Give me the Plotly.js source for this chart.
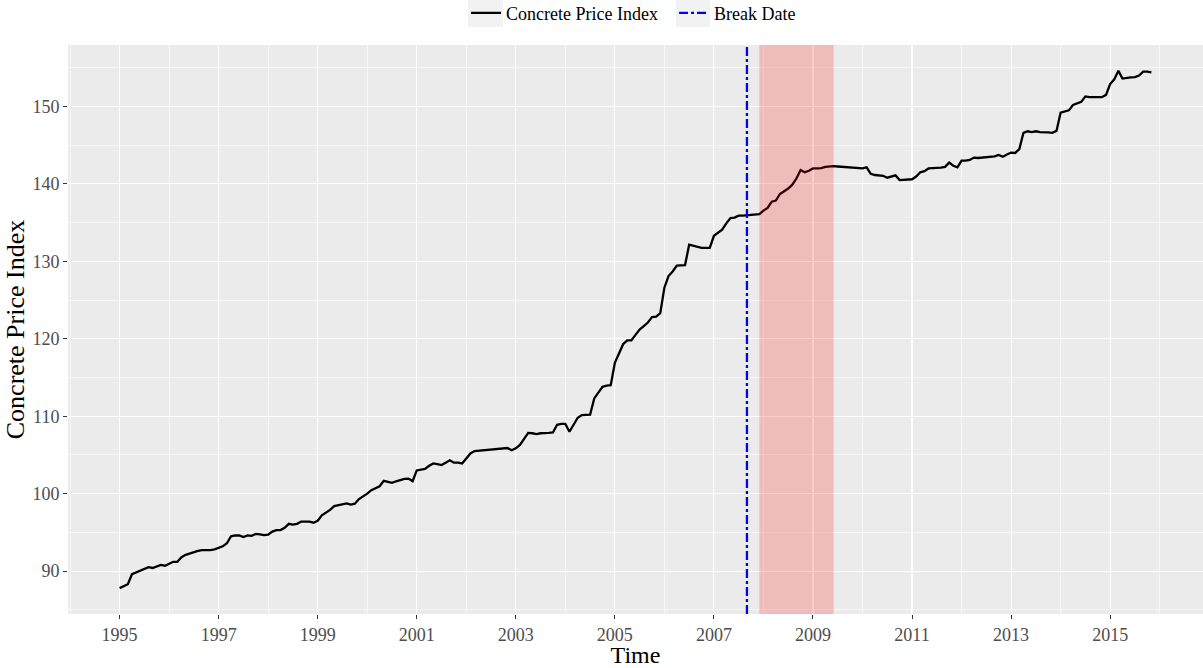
<!DOCTYPE html>
<html>
<head>
<meta charset="utf-8">
<script src="https://cdn.plot.ly/plotly-3.0.1.min.js"></script>
<style>html,body{margin:0;padding:0;background:#fff;}#chart{width:1203px;height:668px;}</style>
</head>
<body>
<div id="chart"></div>
<script>
// Monthly concrete price index, Jan 1995 .. Nov 2015
const startYear = 1995;
const v1995 = [87.8, 88.0, 88.3, 89.6, 89.8, 90.0, 90.3, 90.5, 90.4, 90.6, 90.8, 90.7];
const v1996 = [91.0, 91.2, 91.2, 91.8, 92.1, 92.3, 92.4, 92.6, 92.7, 92.7, 92.7, 92.8];
const v1997 = [93.0, 93.2, 93.6, 94.5, 94.6, 94.6, 94.4, 94.6, 94.55, 94.8, 94.75, 94.65];
const v1998 = [94.7, 95.1, 95.3, 95.3, 95.6, 96.1, 96.0, 96.1, 96.4, 96.4, 96.4, 96.25];
const v1999 = [96.5, 97.2, 97.5, 97.9, 98.4, 98.55, 98.65, 98.75, 98.6, 98.7, 99.3, 99.6];
const v2000 = [100.0, 100.45, 100.75, 100.95, 101.65, 101.5, 101.4, 101.6, 101.8, 101.9, 101.95, 101.6];
const v2001 = [103.0, 103.15, 103.2, 103.6, 103.9, 103.8, 103.7, 104.0, 104.3, 104.0, 104.0, 103.9];
const v2002 = [104.6, 105.2, 105.5, 105.55, 105.6, 105.7, 105.75, 105.75, 105.8, 105.85, 105.9, 105.6];
const v2003 = [105.85, 106.3, 107.0, 107.85, 107.8, 107.7, 107.8, 107.8, 107.85, 107.9, 108.9, 109.0];
const v2004 = [109.0, 108.0, 108.9, 109.8, 110.15, 110.2, 110.2, 112.3, 113.1, 113.8, 113.95, 114.0];
const v2005 = [116.9, 118.0, 119.3, 119.8, 119.8, 120.5, 121.2, 121.65, 122.1, 122.8, 122.85, 123.3];
const v2006 = [126.6, 128.1, 128.7, 129.45, 129.5, 129.5, 132.15, 132.0, 131.9, 131.75, 131.75, 131.75];
const v2007 = [133.3, 133.7, 134.1, 134.9, 135.6, 135.65, 135.9, 135.9, 135.95, 135.95, 136.0, 136.1];
const v2008 = [136.55, 136.9, 137.7, 137.85, 138.7, 139.0, 139.4, 139.9, 140.7, 141.8, 141.5, 141.7];
const v2009 = [142.0, 142.0, 142.05, 142.2, 142.25, 142.3, 142.25, 142.2, 142.15, 142.15, 142.1, 142.05];
const v2010 = [142.0, 142.15, 141.3, 141.15, 141.1, 141.05, 140.8, 141.0, 141.1, 140.5, 140.55, 140.55];
const v2011 = [140.6, 140.95, 141.5, 141.65, 142.0, 142.05, 142.05, 142.1, 142.2, 142.75, 142.35, 142.15];
const v2012 = [143.0, 143.0, 143.1, 143.4, 143.35, 143.4, 143.45, 143.5, 143.55, 143.75, 143.5, 143.8];
const v2013 = [144.05, 144.0, 144.5, 146.6, 146.8, 146.7, 146.8, 146.7, 146.7, 146.65, 146.6, 146.85];
const v2014 = [149.2, 149.4, 149.5, 150.2, 150.45, 150.6, 151.3, 151.2, 151.2, 151.2, 151.2, 151.5];
const v2015 = [152.9, 153.5, 154.6, 153.6, 153.7, 153.75, 153.8, 154.0, 154.5, 154.5, 154.4];

const breakDate = 2007 + 8 / 12;          // break date
const recessionStart = 2007 + 11 / 12;    // Dec 2007
const recessionEnd = 2009 + 5 / 12;       // Jun 2009
const xTickVals = [1995, 1997, 1999, 2001, 2003, 2005, 2007, 2009, 2011, 2013, 2015];
const xTickText = ["1995", "1997", "1999", "2001", "2003", "2005", "2007", "2009", "2011", "2013", "2015"];
const yTickVals = [90, 100, 110, 120, 130, 140, 150];

const values = [].concat(v1995, v1996, v1997, v1998, v1999, v2000, v2001, v2002, v2003, v2004,
  v2005, v2006, v2007, v2008, v2009, v2010, v2011, v2012, v2013, v2014, v2015);
const times = values.map((_, i) => startYear + i / 12);

// ggplot-like 5% expansion
const xmin = times[0], xmax = times[times.length - 1];
const ymin = Math.min(...values), ymax = Math.max(...values);
const xr = [xmin - 0.05 * (xmax - xmin), xmax + 0.05 * (xmax - xmin)];
const yr = [ymin - 0.05 * (ymax - ymin), ymax + 0.05 * (ymax - ymin)];

const serif = "Liberation Serif, Times New Roman, serif";

const traces = [
  {
    x: times, y: values, type: "scatter", mode: "lines",
    name: "Concrete Price Index",
    line: {color: "#000000", width: 2.3}
  },
  {
    x: [breakDate, breakDate], y: yr, type: "scatter", mode: "lines",
    name: "Break Date",
    line: {color: "#0000FF", width: 2.3, dash: "dashdot"}
  }
];

const keyBox = (x0, x1) => ({
  type: "rect", xref: "paper", yref: "paper",
  x0: x0, x1: x1, y0: 1.0316, y1: 1.0791,
  fillcolor: "#F2F2F2", line: {width: 0}, layer: "below"
});

const layout = {
  width: 1203, height: 668,
  paper_bgcolor: "#FFFFFF",
  plot_bgcolor: "#EBEBEB",
  margin: {l: 68, r: 0, t: 45, b: 54, autoexpand: false},
  font: {family: serif, color: "#000000"},
  showlegend: true,
  legend: {
    orientation: "h", x: 0.3507, xanchor: "left", y: 1.056, yanchor: "middle",
    font: {family: serif, size: 18, color: "#000000"},
    bgcolor: "rgba(0,0,0,0)", itemwidth: 30, tracegroupgap: 0,
    entrywidth: 163, entrywidthmode: "pixels"
  },
  xaxis: {
    range: xr, tickmode: "array", tickvals: xTickVals, ticktext: xTickText,
    showgrid: true, gridcolor: "#FFFFFF", gridwidth: 1.1,
    minor: {dtick: 1, tick0: 1994, showgrid: true, gridcolor: "#FFFFFF", gridwidth: 0.55, ticks: ""},
    zeroline: false, showline: false,
    ticks: "outside", ticklen: 4, tickcolor: "#333333", tickwidth: 1,
    tickfont: {family: serif, size: 18, color: "#4D4D4D"},
    title: {text: "Time", font: {family: serif, size: 24, color: "#000000"}, standoff: 1},
    automargin: false
  },
  yaxis: {
    range: yr, tickmode: "array", tickvals: yTickVals,
    showgrid: true, gridcolor: "#FFFFFF", gridwidth: 1.1,
    minor: {dtick: 5, tick0: 85, showgrid: true, gridcolor: "#FFFFFF", gridwidth: 0.55, ticks: ""},
    zeroline: false, showline: false,
    ticks: "outside", ticklen: 4, tickcolor: "#333333", tickwidth: 1,
    tickfont: {family: serif, size: 18, color: "#4D4D4D"},
    title: {text: "Concrete Price Index", font: {family: serif, size: 26, color: "#000000"}, standoff: 0},
    automargin: false
  },
  shapes: [
    keyBox(0.3524, 0.3833),
    keyBox(0.5357, 0.5656),
    {
      type: "rect", xref: "x", yref: "paper",
      x0: recessionStart, x1: recessionEnd, y0: 0, y1: 1,
      fillcolor: "rgba(255,0,0,0.2)", line: {width: 0}, layer: "above"
    }
  ]
};

Plotly.newPlot("chart", traces, layout, {displayModeBar: false, staticPlot: true});
</script>
</body>
</html>
